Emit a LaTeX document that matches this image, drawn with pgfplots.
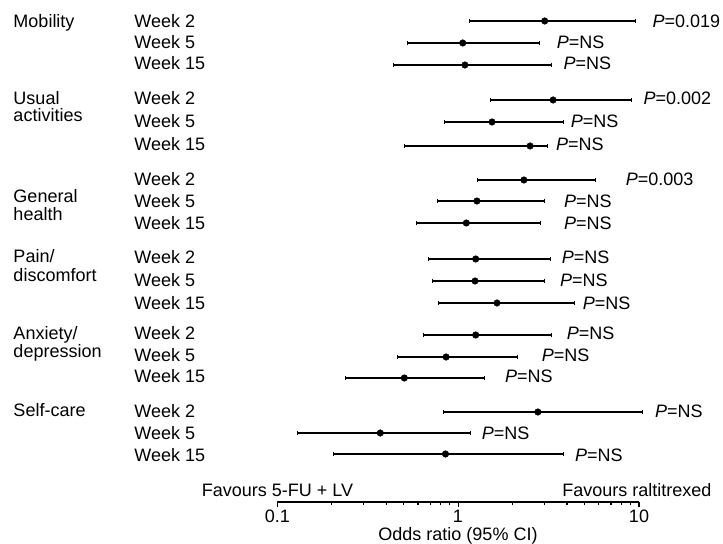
\documentclass[border=0pt]{standalone}
\usepackage{pgfplots}
\pgfplotsset{compat=1.18}
\usepackage{fontspec}
\setmainfont{Liberation Sans}
\newcommand\ci[4]{%
  \addplot[black, line width=1.2bp, mark=|, mark size=2.2bp, mark options={line width=0.7bp}] coordinates {(#1,-#4) (#3,-#4)};
  \addplot[black, only marks, mark=*, mark size=3.3bp] coordinates {(#2,-#4)};
}
\newcommand\T[3]{\node[anchor=base west, inner sep=0pt] at ({#1bp-277.3bp},{502bp-#2bp}) {#3};}
\newcommand\C[3]{\node[anchor=base, inner sep=0pt] at ({#1bp-277.3bp},{502bp-#2bp}) {#3};}
\newcommand\Pv[1]{\textit{P}=#1}
\begin{document}
\begin{tikzpicture}[font=\fontsize{18bp}{21bp}\selectfont]
\useasboundingbox (-277.3bp,-42bp) rectangle (445.7bp,502bp);
\begin{axis}[
  at={(0,0)}, anchor=south west,
  scale only axis, width=361.7bp, height=502bp,
  xmode=log, xmin=0.1, xmax=10, ymin=-502, ymax=0,
  axis x line*=bottom, axis y line=none,
  x axis line style={-, line width=1.3bp},
  xtick={0.1,1,10}, xticklabels={}, minor xtick={},
  major tick length=4.5bp, tick align=outside,
  every tick/.style={black, line width=1.1bp},
  clip=false,
]
\ci{1.155}{3.01}{9.6}{21}
\ci{0.526}{1.06}{2.80}{43}
\ci{0.438}{1.09}{3.27}{65}
\ci{1.51}{3.35}{9.09}{100}
\ci{0.84}{1.54}{3.80}{122}
\ci{0.504}{2.50}{3.10}{146}
\ci{1.28}{2.31}{5.76}{180}
\ci{0.771}{1.27}{2.98}{201}
\ci{0.587}{1.11}{2.86}{223}
\ci{0.684}{1.25}{3.25}{259}
\ci{0.724}{1.24}{2.98}{281}
\ci{0.778}{1.64}{4.41}{303}
\ci{0.645}{1.25}{3.27}{335}
\ci{0.463}{0.858}{2.12}{357}
\ci{0.237}{0.504}{1.39}{378}
\ci{0.829}{2.76}{10.5}{412}
\ci{0.129}{0.371}{1.17}{433}
\ci{0.205}{0.851}{3.83}{454}
\end{axis}
% category labels
\T{13.3}{28}{Mobility}
\T{13.3}{104.6}{Usual}
\T{13.3}{121.5}{activities}
\T{13.3}{203}{General}
\T{13.3}{221}{health}
\T{13.3}{263}{Pain/}
\T{13.3}{281.5}{discomfort}
\T{13.3}{339.7}{Anxiety/}
\T{13.3}{357.5}{depression}
\T{13.3}{416.2}{Self-care}
% week labels
\T{134.3}{28}{Week 2}
\T{134.3}{48.7}{Week 5}
\T{134.3}{69.7}{Week 15}
\T{134.3}{104.7}{Week 2}
\T{134.3}{127.3}{Week 5}
\T{134.3}{150.3}{Week 15}
\T{134.3}{185.7}{Week 2}
\T{134.3}{208}{Week 5}
\T{134.3}{229.7}{Week 15}
\T{134.3}{263.7}{Week 2}
\T{134.3}{286.3}{Week 5}
\T{134.3}{309.7}{Week 15}
\T{134.3}{339.7}{Week 2}
\T{134.3}{361.3}{Week 5}
\T{134.3}{383}{Week 15}
\T{134.3}{417.3}{Week 2}
\T{134.3}{439.7}{Week 5}
\T{134.3}{461.3}{Week 15}
% P labels
\T{652.3}{27.5}{\Pv{0.019}}
\T{556.7}{48.7}{\Pv{NS}}
\T{563.3}{69.7}{\Pv{NS}}
\T{643.3}{104.7}{\Pv{0.002}}
\T{570.7}{127.3}{\Pv{NS}}
\T{556}{150.3}{\Pv{NS}}
\T{625.7}{185.7}{\Pv{0.003}}
\T{564}{208}{\Pv{NS}}
\T{564}{229.7}{\Pv{NS}}
\T{561.7}{263.7}{\Pv{NS}}
\T{560}{286.3}{\Pv{NS}}
\T{582.7}{309.7}{\Pv{NS}}
\T{566.7}{339.7}{\Pv{NS}}
\T{541.7}{361.3}{\Pv{NS}}
\T{505}{383}{\Pv{NS}}
\T{655}{417.3}{\Pv{NS}}
\T{481.7}{439.7}{\Pv{NS}}
\T{575}{461.3}{\Pv{NS}}
% bottom texts
\T{201.7}{496}{Favours 5-FU + LV}
\node[anchor=base east, inner sep=0pt] at ({711.7bp-277.3bp},{502bp-496bp}) {Favours raltitrexed};
\C{277.3}{522}{0.1}
\C{458}{522}{1}
\C{639}{522}{10}
\C{458}{540}{Odds ratio (95\% CI)}
\end{tikzpicture}
\end{document}
